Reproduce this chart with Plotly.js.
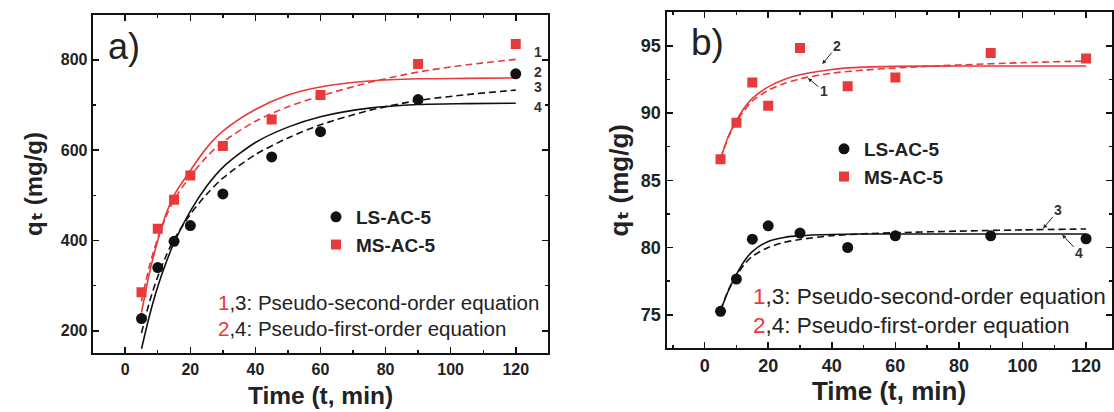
<!DOCTYPE html>
<html><head><meta charset="utf-8">
<script src="https://cdn.plot.ly/plotly-3.0.1.min.js"></script>
<style>html,body{margin:0;padding:0;background:#fff;} #chart{width:1114px;height:412px;}</style>
</head><body><div id="chart"></div>
<script>
// ---------- Panel a ----------
const timeA = [5, 10, 15, 20, 30, 45, 60, 90, 120];
const lsA = [227, 340, 398, 433, 503, 585, 641, 712, 769];
const msA = [285, 426, 490, 544, 609, 668, 722, 791, 835];
const fitTimeA = [5, 7.5, 10, 12.5, 15, 20, 25, 30, 40, 50, 60, 75, 90, 105, 120];
const curve1A = [265, 345, 405, 452, 490, 542, 585, 618, 664, 696, 720, 750, 773, 789, 801]; // MS pseudo-second-order
const curve2A = [240, 330, 400, 458, 500, 555, 605, 642, 690, 722, 740, 753, 758, 759, 760]; // MS pseudo-first-order
const curve3A = [195, 265, 320, 365, 402, 458, 502, 538, 590, 627, 656, 688, 710, 723, 733]; // LS pseudo-second-order
const curve4A = [160, 235, 298, 350, 395, 465, 520, 562, 617, 651, 674, 693, 701, 703, 704]; // LS pseudo-first-order

// ---------- Panel b ----------
const timeB = [5, 10, 15, 20, 30, 45, 60, 90, 120];
const lsB = [75.25, 77.65, 80.62, 81.61, 81.07, 80.0, 80.87, 80.87, 80.65];
const msB = [86.56, 89.28, 92.28, 90.54, 94.85, 92.0, 92.65, 94.48, 94.06];
const fitTimeB = [5, 7.5, 10, 12.5, 15, 20, 25, 30, 40, 50, 60, 80, 100, 120];
const curve1B = [86.6, 88.2, 89.35, 90.2, 90.9, 91.7, 92.2, 92.55, 92.97, 93.2, 93.36, 93.58, 93.75, 93.88];
const curve2B = [86.6, 88.3, 89.45, 90.4, 91.1, 91.95, 92.5, 92.85, 93.25, 93.42, 93.48, 93.5, 93.5, 93.5];
const curve3B = [75.3, 76.85, 77.9, 78.75, 79.35, 80.0, 80.38, 80.6, 80.88, 81.02, 81.1, 81.22, 81.31, 81.38];
const curve4B = [75.3, 76.8, 78.0, 79.0, 79.7, 80.45, 80.75, 80.88, 80.97, 81.0, 81.0, 81.0, 81.0, 81.0];

const seriesNames = ['LS-AC-5', 'MS-AC-5'];
const xTickVals = [0, 20, 40, 60, 80, 100, 120];
const xTitle = 'Time (t, min)';
const yTitle = 'q\u209C (mg/g)';
const noteSecond = ['1', ',3: Pseudo-second-order equation'];
const noteFirst = ['2', ',4: Pseudo-first-order equation'];

const RED = '#e8393b', BLK = '#111111', TXT = '#222222';
const FF = 'Liberation Sans, Arial, DejaVu Sans, sans-serif';
const W = 1114, H = 412;
const px = v => v / W, py = v => (H - v) / H;
const DASH = '7px,4px';

function line(x, y, color, dash, xa, ya) {
  return {x, y, type: 'scatter', mode: 'lines', xaxis: xa, yaxis: ya, showlegend: false,
    line: {color, width: 1.6, dash, shape: 'spline', smoothing: 0.8}, hoverinfo: 'skip'};
}
function pts(x, y, name, sym, color, size, xa, ya, leg) {
  return {x, y, type: 'scatter', mode: 'markers', name, xaxis: xa, yaxis: ya, legend: leg,
    marker: {symbol: sym, color, size, line: {width: 0}}};
}

const data = [
  line(fitTimeA, curve2A, RED, 'solid', 'x', 'y'),
  line(fitTimeA, curve1A, RED, DASH, 'x', 'y'),
  line(fitTimeA, curve4A, BLK, 'solid', 'x', 'y'),
  line(fitTimeA, curve3A, BLK, DASH, 'x', 'y'),
  pts(timeA, lsA, seriesNames[0], 'circle', BLK, 11, 'x', 'y', 'legend'),
  pts(timeA, msA, seriesNames[1], 'square', RED, 10, 'x', 'y', 'legend'),
  line(fitTimeB, curve2B, RED, 'solid', 'x2', 'y2'),
  line(fitTimeB, curve1B, RED, DASH, 'x2', 'y2'),
  line(fitTimeB, curve4B, BLK, 'solid', 'x2', 'y2'),
  line(fitTimeB, curve3B, BLK, DASH, 'x2', 'y2'),
  pts(timeB, lsB, seriesNames[0], 'circle', BLK, 11, 'x2', 'y2', 'legend2'),
  pts(timeB, msB, seriesNames[1], 'square', RED, 10, 'x2', 'y2', 'legend2')
];

function minor(dtick) {
  return {ticks: 'inside', ticklen: 3, tickwidth: 1.4, tickcolor: '#111', dtick, tick0: 0, showgrid: false};
}
function axis(extra, fs, title, tfs, standoff) {
  return Object.assign({
    showline: true, linecolor: '#111', linewidth: 2, mirror: 'ticks',
    ticks: 'inside', ticklen: 6, tickwidth: 1.6, tickcolor: '#111',
    showgrid: false, zeroline: false,
    tickfont: {family: FF, size: fs, color: TXT, weight: 'bold'},
    title: {text: title, standoff, font: {family: FF, size: tfs, color: TXT, weight: 'bold'}}
  }, extra);
}

const layout = {
  width: W, height: H, margin: {l: 0, r: 0, t: 0, b: 0},
  paper_bgcolor: '#fff', plot_bgcolor: '#fff',
  font: {family: FF, color: TXT},
  xaxis: axis({domain: [px(92.7), px(548.3)], range: [-10, 130], anchor: 'y',
    tickmode: 'array', tickvals: xTickVals, minor: minor(10)}, 16, xTitle, 24.5, 10),
  yaxis: axis({domain: [1 - 353.3 / H, 1 - 14.7 / H], range: [150, 900], anchor: 'x',
    tick0: 0, dtick: 200, minor: minor(100)}, 16, yTitle, 24, 11),
  xaxis2: axis({domain: [px(666.5), px(1111.5)], range: [-12, 128], anchor: 'y2',
    tickmode: 'array', tickvals: xTickVals, minor: minor(10)}, 18, xTitle, 26, 6),
  yaxis2: axis({domain: [1 - 348.3 / H, 1 - 12.3 / H], range: [72.5, 97.5], anchor: 'x2',
    tick0: 0, dtick: 5, minor: minor(2.5)}, 18, yTitle, 26, 5),
  legend: {x: px(316), y: py(198), xanchor: 'left', yanchor: 'top', bgcolor: 'rgba(0,0,0,0)',
    font: {family: FF, size: 19, color: TXT, weight: 'bold'}, tracegroupgap: 0},
  legend2: {x: px(824), y: py(130), xanchor: 'left', yanchor: 'top', bgcolor: 'rgba(0,0,0,0)',
    font: {family: FF, size: 19, color: TXT, weight: 'bold'}, tracegroupgap: 0},
  annotations: []
};

const A = layout.annotations;
function paperText(text, x, y, size, opts) {
  A.push(Object.assign({xref: 'paper', yref: 'paper', x: px(x), y: py(y), text, showarrow: false,
    xanchor: 'center', yanchor: 'middle', font: {family: FF, size, color: TXT}}, opts || {}));
}
// panel letters
paperText('a)', 106, 47, 36, {xanchor: 'left'});
paperText('b)', 689, 43, 37, {xanchor: 'left'});
// equation notes: leading number in red, rest dark
const note = (n) => n[0] + '<span style="color:' + TXT + '">' + n[1] + '</span>';
paperText(note(noteSecond), 216, 302, 20.5, {xanchor: 'left', font: {family: FF, size: 20.5, color: RED}});
paperText(note(noteFirst), 216, 328, 20.5, {xanchor: 'left', font: {family: FF, size: 20.5, color: RED}});
paperText(note(noteSecond), 751, 296, 22.5, {xanchor: 'left', font: {family: FF, size: 22.5, color: RED}});
paperText(note(noteFirst), 751, 325, 22.5, {xanchor: 'left', font: {family: FF, size: 22.5, color: RED}});
// curve numbers panel a
const numFont = {family: FF, size: 14, color: '#333', weight: 'bold'};
[['1', 818], ['2', 773], ['3', 740], ['4', 696]].forEach(([t, y]) => {
  A.push({xref: 'x', yref: 'y', x: 125, y, text: t, showarrow: false, xanchor: 'left', yanchor: 'middle', font: numFont});
});
// curve numbers panel b (with arrows)
[['2', 37.0, 93.65, 15, -18], ['1', 32.5, 92.6, 16, 13], ['3', 106.5, 81.42, 15, -18], ['4', 112.5, 80.95, 17, 18]].forEach(([t, x, y, ax, ay]) => {
  A.push({xref: 'x2', yref: 'y2', x, y, text: t, showarrow: true, ax, ay, arrowhead: 2, arrowsize: 0.8,
    arrowwidth: 1, arrowcolor: '#222', standoff: 0, font: numFont});
});

Plotly.newPlot('chart', data, layout, {staticPlot: true, displayModeBar: false});
</script></body></html>
